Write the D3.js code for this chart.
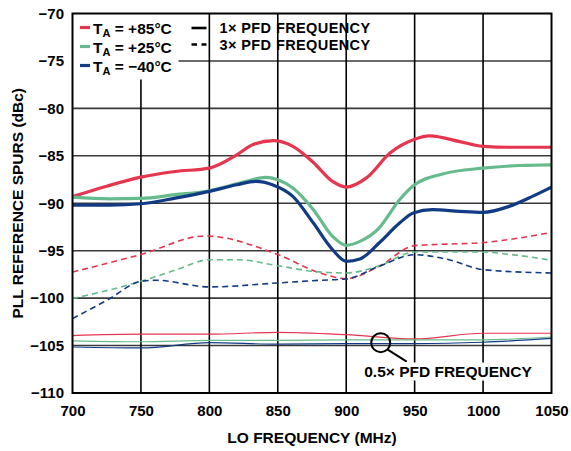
<!DOCTYPE html>
<html>
<head>
<meta charset="utf-8">
<script src="https://cdn.jsdelivr.net/npm/d3@7"></script>
<style>
  body { margin: 0; background: #fff; }
  svg { display: block; font-family: "Liberation Sans", Arial, sans-serif; font-weight: bold; }
</style>
</head>
<body>
<div id="chart"></div>
<script>
// x ticks / y ticks
const xTicks = [700, 750, 800, 850, 900, 950, 1000, 1050];
const yTicks = [-70, -75, -80, -85, -90, -95, -100, -105, -110];

// 1x PFD frequency spurs, [LO MHz, dBc]
const pfd1x_85 = [[700, -89.3], [725, -88.2], [750, -87.25], [775, -86.65], [800, -86.3], [820, -84.9], [832, -83.8],
  [847, -83.4], [861, -84.0], [876, -85.7], [890, -87.7], [900, -88.3], [915, -87.3], [932, -84.7], [950, -83.25],
  [961, -82.9], [983, -83.5], [1000, -84.0], [1020, -84.1], [1050, -84.1]];
const pfd1x_25 = [[700, -89.35], [727, -89.53], [750, -89.49], [775, -89.1], [800, -88.68], [827, -87.7], [841, -87.28],
  [850, -87.53], [861, -88.4], [876, -90.68], [890, -93.49], [900, -94.44], [910, -94.02], [924, -92.61], [939, -89.63],
  [949, -88.16], [971, -86.89], [1000, -86.3], [1027, -86.02], [1050, -85.95]];
const pfd1x_m40 = [[700, -90.19], [727, -90.19], [750, -90.05], [775, -89.46], [800, -88.75], [820, -88.05], [834, -87.7],
  [846, -88.05], [861, -89.28], [876, -92.09], [890, -94.89], [900, -96.12], [910, -95.88], [924, -94.19], [939, -92.09],
  [949, -91.03], [963, -90.68], [983, -90.86], [1000, -90.96], [1019, -90.33], [1036, -89.28], [1050, -88.3]];

// 3x PFD frequency spurs
const pfd3x_85 = [[700, -97.25], [750, -95.4], [797, -93.45], [850, -95.4], [881, -97.35], [900, -97.95], [924, -96.65],
  [950, -94.47], [975, -94.3], [1000, -94.15], [1020, -93.8], [1050, -93.07]];
const pfd3x_25 = [[700, -100.05], [750, -98.23], [776, -97.0], [800, -95.95], [820, -95.95], [850, -96.58], [876, -97.18],
  [900, -97.35], [924, -96.6], [950, -95.14], [1000, -95.14], [1020, -95.4], [1050, -96.0]];
const pfd3x_m40 = [[700, -102.16], [726, -100.16], [750, -98.23], [761, -98.12], [800, -98.82], [850, -98.4], [881, -98.12],
  [900, -97.98], [924, -96.65], [950, -95.42], [975, -95.95], [1000, -97.0], [1050, -97.35]];

// 0.5x PFD frequency spurs
const pfdHalf_85 = [[700, -103.95], [750, -103.8], [800, -103.8], [850, -103.6], [900, -103.85], [950, -104.3],
  [1000, -103.7], [1050, -103.7]];
const pfdHalf_25 = [[700, -104.5], [750, -104.6], [800, -104.45], [850, -104.45], [900, -104.4], [950, -104.4],
  [1000, -104.4], [1050, -104.1]];
const pfdHalf_m40 = [[700, -105.15], [750, -105.25], [800, -104.7], [850, -104.85], [900, -104.8], [950, -104.8],
  [1000, -104.65], [1050, -104.25]];

const tempLabels = ["+85°C", "+25°C", "\u221240°C"];
const colors = ["#e5354f", "#66bb8c", "#113b84"];

const width = 571, height = 451;
const margin = { top: 13.5, right: 19.5, bottom: 58, left: 72.5 };
const iw = width - margin.left - margin.right;
const ih = height - margin.top - margin.bottom;

const svg = d3.select("#chart").append("svg")
  .attr("width", width)
  .attr("height", height);

const g = svg.append("g").attr("transform", `translate(${margin.left},${margin.top})`);

const x = d3.scaleLinear().domain([700, 1050]).range([0, iw]);
const y = d3.scaleLinear().domain([-110, -70]).range([ih, 0]);

// grid
g.append("g").selectAll("line")
  .data(yTicks.slice(1, -1))
  .join("line")
  .attr("x1", 0).attr("x2", iw)
  .attr("y1", d => y(d)).attr("y2", d => y(d))
  .attr("stroke", "#3a3a3a").attr("stroke-width", 1.6);
g.append("g").selectAll("line")
  .data(xTicks.slice(1, -1))
  .join("line")
  .attr("x1", d => x(d)).attr("x2", d => x(d))
  .attr("y1", 0).attr("y2", ih)
  .attr("stroke", "#000").attr("stroke-width", 1.6);

// white box behind the temperature legend
g.append("rect")
  .attr("x", 0).attr("y", 0)
  .attr("width", 106).attr("height", 66)
  .attr("fill", "#fff");

// axes (labels only)
const yAxis = g.append("g")
  .call(d3.axisLeft(y).tickValues(yTicks).tickSize(0).tickPadding(8.5));
const xAxis = g.append("g")
  .attr("transform", `translate(0,${ih})`)
  .call(d3.axisBottom(x).tickValues(xTicks).tickFormat(d3.format("d")).tickSize(0).tickPadding(12));
[xAxis, yAxis].forEach(a => {
  a.select(".domain").remove();
  a.selectAll("text")
    .attr("fill", "#000")
    .style("font-family", "'Liberation Sans', Arial, sans-serif")
    .style("font-weight", "bold")
    .style("font-size", "15px");
});

// series
const line = d3.line()
  .x(d => x(d[0]))
  .y(d => y(d[1]))
  .curve(d3.curveMonotoneX);

const halfSeries = [pfdHalf_85, pfdHalf_25, pfdHalf_m40];
const dashSeries = [pfd3x_85, pfd3x_25, pfd3x_m40];
const solidSeries = [pfd1x_85, pfd1x_25, pfd1x_m40];

halfSeries.forEach((s, i) => {
  g.append("path").datum(s)
    .attr("fill", "none").attr("stroke", colors[i]).attr("stroke-width", 1.2)
    .attr("d", line);
});
dashSeries.forEach((s, i) => {
  g.append("path").datum(s)
    .attr("fill", "none").attr("stroke", colors[i]).attr("stroke-width", 1.6)
    .attr("stroke-dasharray", "6,4")
    .attr("d", line);
});
solidSeries.forEach((s, i) => {
  g.append("path").datum(s)
    .attr("fill", "none").attr("stroke", colors[i]).attr("stroke-width", 3.2)
    .attr("d", line);
});

// frame
g.append("rect")
  .attr("width", iw).attr("height", ih)
  .attr("fill", "none").attr("stroke", "#000").attr("stroke-width", 2);

// temperature legend
const tLegend = g.append("g").attr("transform", "translate(7.5,0)");
tempLabels.forEach((t, i) => {
  const yy = 20 + i * 19;
  tLegend.append("line")
    .attr("x1", 0).attr("x2", 10)
    .attr("y1", yy - 6).attr("y2", yy - 6)
    .attr("stroke", colors[i]).attr("stroke-width", 3.2);
  const txt = tLegend.append("text")
    .attr("x", 13).attr("y", yy)
    .style("font-size", "15.5px");
  txt.append("tspan").text("T");
  txt.append("tspan").attr("dy", 3).style("font-size", "11px").text("A");
  txt.append("tspan").attr("dy", -3).text(" = " + t);
});

// harmonic legend
const hLegend = g.append("g").attr("transform", "translate(119,0)");
[["1× PFD FREQUENCY", null], ["3× PFD FREQUENCY", "5.5,4.5"]].forEach(([label, dash], i) => {
  const yy = 19.5 + i * 16.5;
  hLegend.append("line")
    .attr("x1", 0).attr("x2", 15)
    .attr("y1", yy - 5).attr("y2", yy - 5)
    .attr("stroke", "#000").attr("stroke-width", 2.6)
    .attr("stroke-dasharray", dash);
  hLegend.append("text")
    .attr("x", 28).attr("y", yy)
    .style("font-size", "14.5px")
    .style("letter-spacing", "0.4px")
    .text(label);
});

// 0.5x annotation
const cx = 380.7 - margin.left, cy = 342.7 - margin.top;
g.append("circle")
  .attr("cx", cx).attr("cy", cy).attr("r", 9.5)
  .attr("fill", "none").attr("stroke", "#000").attr("stroke-width", 2);
g.append("line")
  .attr("x1", cx + 7).attr("y1", cy + 7)
  .attr("x2", 406.7 - margin.left).attr("y2", 361.7 - margin.top)
  .attr("stroke", "#000").attr("stroke-width", 2);
g.append("rect")
  .attr("x", 360 - margin.left).attr("y", 362.5 - margin.top)
  .attr("width", 177).attr("height", 18)
  .attr("fill", "#fff");
g.append("text")
  .attr("x", 448 - margin.left).attr("y", 376.5 - margin.top)
  .attr("text-anchor", "middle")
  .style("font-size", "15.5px")
  .text("0.5× PFD FREQUENCY");

// axis titles
svg.append("text")
  .attr("x", margin.left + iw / 2).attr("y", 443)
  .attr("text-anchor", "middle")
  .style("font-size", "15.5px")
  .text("LO FREQUENCY (MHz)");
svg.append("text")
  .attr("transform", `translate(22.5,${margin.top + ih / 2}) rotate(-90)`)
  .attr("text-anchor", "middle")
  .style("font-size", "15.5px")
  .text("PLL REFERENCE SPURS (dBc)");
</script>
</body>
</html>
